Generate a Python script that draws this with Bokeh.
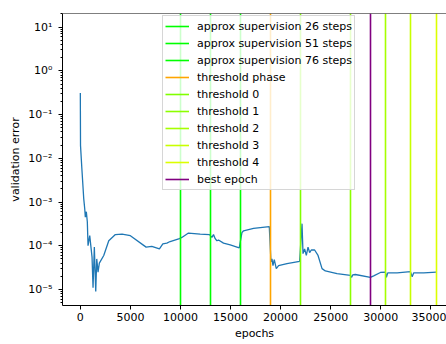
from bokeh.plotting import figure
from bokeh.models import (Range1d, FixedTicker, CustomJSTickFormatter, Legend, LegendItem, Span)
from bokeh.embed import file_html
from bokeh.resources import INLINE

# validation error curve
epochs = [0, 20, 150, 340, 440, 500, 600, 700, 770, 940, 1170, 1270, 1400, 1540, 1640, 1770,
          1900, 2340, 2840, 3500, 4170, 5000, 6570, 7140, 7900, 8240, 8640, 8970, 9900,
          10140, 10800, 11970, 12900, 13140, 13300, 13470, 13640, 13800, 14300, 14970, 15870,
          16140, 16300, 17300, 18870,
          19040, 19140, 19240, 19370, 19570, 19800, 20640, 21900,
          22140, 22240, 22400, 22570, 22740, 22900, 23070, 23400, 23740, 24140, 24470,
          25640, 26970, 27100, 27200, 27470, 28970, 29300, 29970, 30470, 30570, 30700,
          31640, 32970, 33140, 33300, 34300, 35570]
val_error = [0.31, 0.0195, 0.006, 1.2e-3, 7e-4, 4.5e-4, 6e-4, 3.5e-4, 1.0e-4, 1.7e-4, 5.5e-5,
             1.1e-5, 9.3e-5, 9e-6, 5e-5, 2.5e-5,
             4e-5, 6e-5, 1.3e-4, 1.8e-4, 1.85e-4, 1.7e-4, 9.3e-5, 9.7e-5, 8.5e-5, 1.1e-4,
             1.15e-4, 1.25e-4, 1.45e-4,
             1.55e-4, 1.95e-4, 1.85e-4, 1.8e-4, 1.55e-4, 1.8e-4, 1.45e-4, 1.3e-4, 1.35e-4,
             1.15e-4, 1.05e-4, 8.9e-5,
             2.0e-4, 2.2e-4, 2.5e-4, 2.75e-4,
             4.3e-5, 5e-5, 3.5e-5, 4.8e-5, 3e-5, 3.5e-5, 3.9e-5, 4.4e-5,
             3.2e-4, 6.6e-5, 8.5e-5, 6e-5, 9.3e-5, 7e-5, 8e-5, 8e-5, 6e-5, 3e-5, 2.65e-5,
             2.3e-5, 2.1e-5, 1.9e-5, 2.15e-5, 2.2e-5, 1.9e-5, 2.05e-5, 2.45e-5, 2.5e-5,
             1.9e-5, 2.4e-5,
             2.4e-5, 2.55e-5, 1.95e-5, 2.4e-5, 2.4e-5, 2.5e-5]

# vertical markers
marker_labels = ["approx supervision 26 steps", "approx supervision 51 steps",
                 "approx supervision 76 steps", "threshold phase", "threshold 0",
                 "threshold 1", "threshold 2", "threshold 3", "threshold 4", "best epoch"]
marker_epochs = [10000, 13000, 16000, 19000, 22000, 27000, 30500, 33000, 35600, 29000]
marker_colors = ["#00ff00", "#00ff00", "#00ff00", "#ffa500", "#80ff00",
                 "#8cff00", "#a6ff00", "#c8ff00", "#dcff00", "#800080"]

x_ticks = [0, 5000, 10000, 15000, 20000, 25000, 30000, 35000]
y_ticks = [1e-5, 1e-4, 1e-3, 1e-2, 1e-1, 1e0, 1e1]
y_minor = [m * t for t in [1e-6] + y_ticks for m in range(2, 10)]

p = figure(width=446, height=344, y_axis_type="log", output_backend="svg",
           toolbar_location=None,
           x_range=Range1d(-1780, 36570), y_range=Range1d(4.3e-6, 20.5),
           min_border_left=62, min_border_right=0, min_border_top=13, min_border_bottom=39)
p.background_fill_color = "white"
p.border_fill_color = "white"
p.outline_line_color = None
p.xgrid.visible = False
p.ygrid.visible = False

p.add_layout(Span(location=20.5, dimension="width", line_color="black", line_width=1))

p.line(epochs, val_error, line_color="#1f77b4", line_width=1.3)

items = []
for lab, ep, col in zip(marker_labels, marker_epochs, marker_colors):
    r = p.vspan(x=[ep], line_color=col, line_width=1.6)
    items.append(LegendItem(label=lab, renderers=[r]))

legend = Legend(items=items, location=(100, 115))
legend.label_text_font = "DejaVu Sans"
legend.label_text_font_size = "11px"
legend.label_text_color = "black"
legend.glyph_width = 24
legend.glyph_height = 16
legend.label_height = 16
legend.spacing = 1
legend.padding = 2
legend.margin = 0
legend.label_standoff = 8
legend.background_fill_alpha = 0.8
legend.border_line_color = "#cccccc"
legend.border_line_alpha = 0.8
p.add_layout(legend, "center")

p.xaxis.ticker = FixedTicker(ticks=x_ticks)
p.yaxis.ticker = FixedTicker(ticks=y_ticks, minor_ticks=y_minor)
p.yaxis.formatter = CustomJSTickFormatter(code="""
const e = Math.round(Math.log10(tick));
const sup = {'-':'\u207b','0':'\u2070','1':'\u00b9','2':'\u00b2','3':'\u00b3','4':'\u2074','5':'\u2075','6':'\u2076','7':'\u2077','8':'\u2078','9':'\u2079'};
return '10' + String(e).split('').map(c => sup[c]).join('');
""")

for ax in (p.xaxis[0], p.yaxis[0]):
    ax.axis_line_color = "black"
    ax.major_tick_line_color = "black"
    ax.minor_tick_line_color = "black"
    ax.major_tick_in = 0
    ax.major_tick_out = 4
    ax.minor_tick_in = 0
    ax.minor_tick_out = 2
    ax.major_label_text_font = "DejaVu Sans"
    ax.major_label_text_font_size = "11px"
    ax.major_label_text_color = "black"
    ax.axis_label_text_font = "DejaVu Sans"
    ax.axis_label_text_font_size = "11px"
    ax.axis_label_text_font_style = "normal"
    ax.axis_label_text_color = "black"

p.xaxis.axis_label = "epochs"
p.yaxis.axis_label = "validation error"
p.xaxis.major_label_standoff = 3
p.xaxis.axis_label_standoff = 3
p.yaxis.major_label_standoff = 6
p.yaxis.axis_label_standoff = 3

open("out.html", "w").write(file_html(p, INLINE))
